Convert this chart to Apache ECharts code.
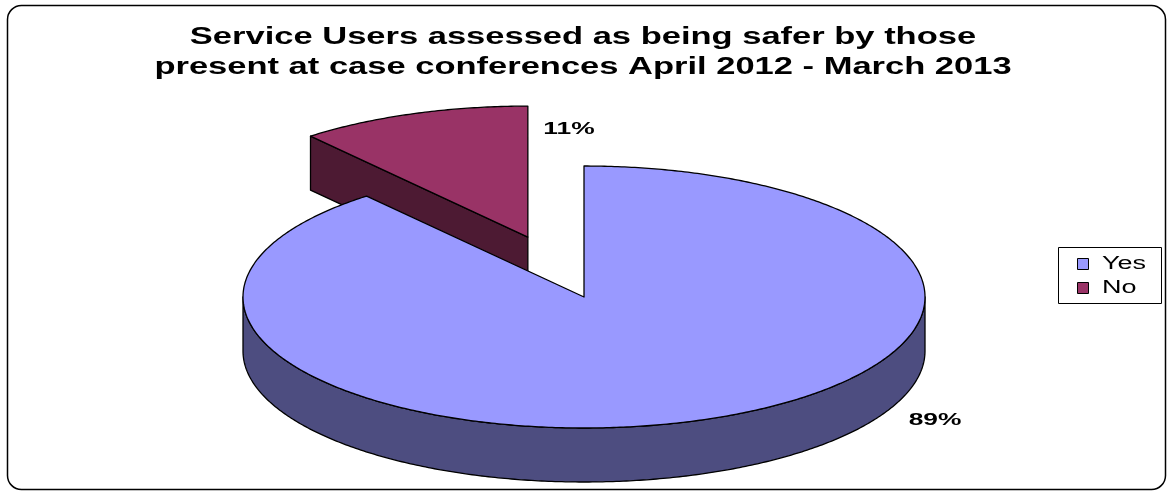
<!DOCTYPE html>
<html><head><meta charset="utf-8">
<script src="https://cdn.jsdelivr.net/npm/echarts@6/dist/echarts.min.js"></script>
<style>html,body{margin:0;padding:0;background:#fff}#c{width:1170px;height:492px}</style>
</head><body><div id="c"></div><script>
// ---- data ----
const titleLines = ['Service Users assessed as being safer by those',
                    'present at case conferences April 2012 - March 2013'];
const categories = ['Yes', 'No'];
const values = [89, 11];          // percent
const explode = [0, 0.486];       // fraction of radius

// ---- styles / layout ----
const topColors = ['#9999FF', '#993366'];
const sideColors = ['#4D4D80', '#4D1A33'];
const PIE = { cx: 584, cy: 297, rx: 341, ry: 131, h: 54 };
const labelCenters = [[935, 420], [569, 129]];
const FONT = '"Liberation Sans", Arial, sans-serif';

const total = values.reduce((s, v) => s + v, 0);

function renderItem(params, api) {
  const i = params.dataIndex;
  const v = api.value(0);
  let before = 0;
  for (let k = 0; k < i; k++) before += values[k];
  const a = before / total * 2 * Math.PI;
  const b = (before + v) / total * 2 * Math.PI;
  const mid = (a + b) / 2;
  const e = explode[i];
  const ox = e * PIE.rx * Math.sin(mid);
  const oy = -e * PIE.ry * Math.cos(mid);
  const P = (t, dy) => [PIE.cx + ox + PIE.rx * Math.sin(t), PIE.cy + oy - PIE.ry * Math.cos(t) + dy];
  const apexT = [PIE.cx + ox, PIE.cy + oy];
  const apexB = [PIE.cx + ox, PIE.cy + oy + PIE.h];
  const arc = (s, t, dy) => {
    const pts = []; const n = Math.max(2, Math.ceil((t - s) / 0.01));
    for (let k = 0; k <= n; k++) pts.push(P(s + (t - s) * k / n, dy));
    return pts;
  };
  const baseZ = Math.round((1 - Math.cos(mid)) * 100) * 10;
  const lineStyle = { stroke: '#000', lineWidth: 1.3, lineJoin: 'round' };
  const children = [];
  // radial walls
  if (Math.cos(a - Math.PI / 2) < -1e-6) {
    children.push({ type: 'polygon', z2: baseZ + 1,
      shape: { points: [apexT, P(a, 0), P(a, PIE.h), apexB] },
      style: Object.assign({ fill: sideColors[i] }, lineStyle) });
  }
  if (Math.cos(b + Math.PI / 2) < -1e-6) {
    children.push({ type: 'polygon', z2: baseZ + 1,
      shape: { points: [apexT, P(b, 0), P(b, PIE.h), apexB] },
      style: Object.assign({ fill: sideColors[i] }, lineStyle) });
  }
  // outer wall (front half only)
  const s = Math.max(a, Math.PI / 2), t = Math.min(b, 3 * Math.PI / 2);
  if (s < t) {
    const pts = arc(s, t, 0).concat(arc(s, t, PIE.h).reverse());
    children.push({ type: 'polygon', z2: baseZ + 2, shape: { points: pts },
      style: Object.assign({ fill: sideColors[i] }, lineStyle) });
  }
  // top face
  children.push({ type: 'polygon', z2: baseZ + 3,
    shape: { points: [apexT].concat(arc(a, b, 0)) },
    style: Object.assign({ fill: topColors[i] }, lineStyle) });
  // label
  children.push({ type: 'text', z2: 5000,
    x: labelCenters[i][0], y: labelCenters[i][1], scaleX: 1.55,
    style: { text: Math.round(v / total * 100) + '%', fill: '#000',
      font: 'bold 17px ' + FONT, align: 'center', verticalAlign: 'middle' } });
  return { type: 'group', children };
}

const graphics = [
  { type: 'rect', z: 0, shape: { x: 7.5, y: 5.5, width: 1158, height: 484, r: 14 },
    style: { fill: '#fff', stroke: '#000', lineWidth: 1.5 } }
];
titleLines.forEach((txt, k) => graphics.push({
  type: 'text', z: 10, x: 583, y: 38 + k * 30, scaleX: 1.5,
  style: { text: txt, fill: '#000', font: 'bold 23px ' + FONT, align: 'center', verticalAlign: 'middle' }
}));
// legend
graphics.push({ type: 'rect', z: 10, shape: { x: 1058.5, y: 247.5, width: 103, height: 56 },
  style: { fill: '#fff', stroke: '#000', lineWidth: 1 } });
categories.forEach((c, k) => {
  graphics.push({ type: 'rect', z: 11, shape: { x: 1077.5, y: 258.5 + k * 24, width: 11, height: 11 },
    style: { fill: topColors[k], stroke: '#000', lineWidth: 1 } });
  graphics.push({ type: 'text', z: 11, x: 1102, y: 264 + k * 24.5, scaleX: 1.5,
    style: { text: c, fill: '#000', font: '18px ' + FONT, align: 'left', verticalAlign: 'middle' } });
});

const chart = echarts.init(document.getElementById('c'), null, { renderer: 'canvas' });
chart.setOption({
  animation: false,
  backgroundColor: '#fff',
  graphic: graphics,
  series: [{
    type: 'custom',
    name: 'Service users',
    coordinateSystem: 'none',
    renderItem: renderItem,
    data: values.map((v, i) => ({ name: categories[i], value: [v] })),
    z: 5
  }]
});
</script></body></html>
